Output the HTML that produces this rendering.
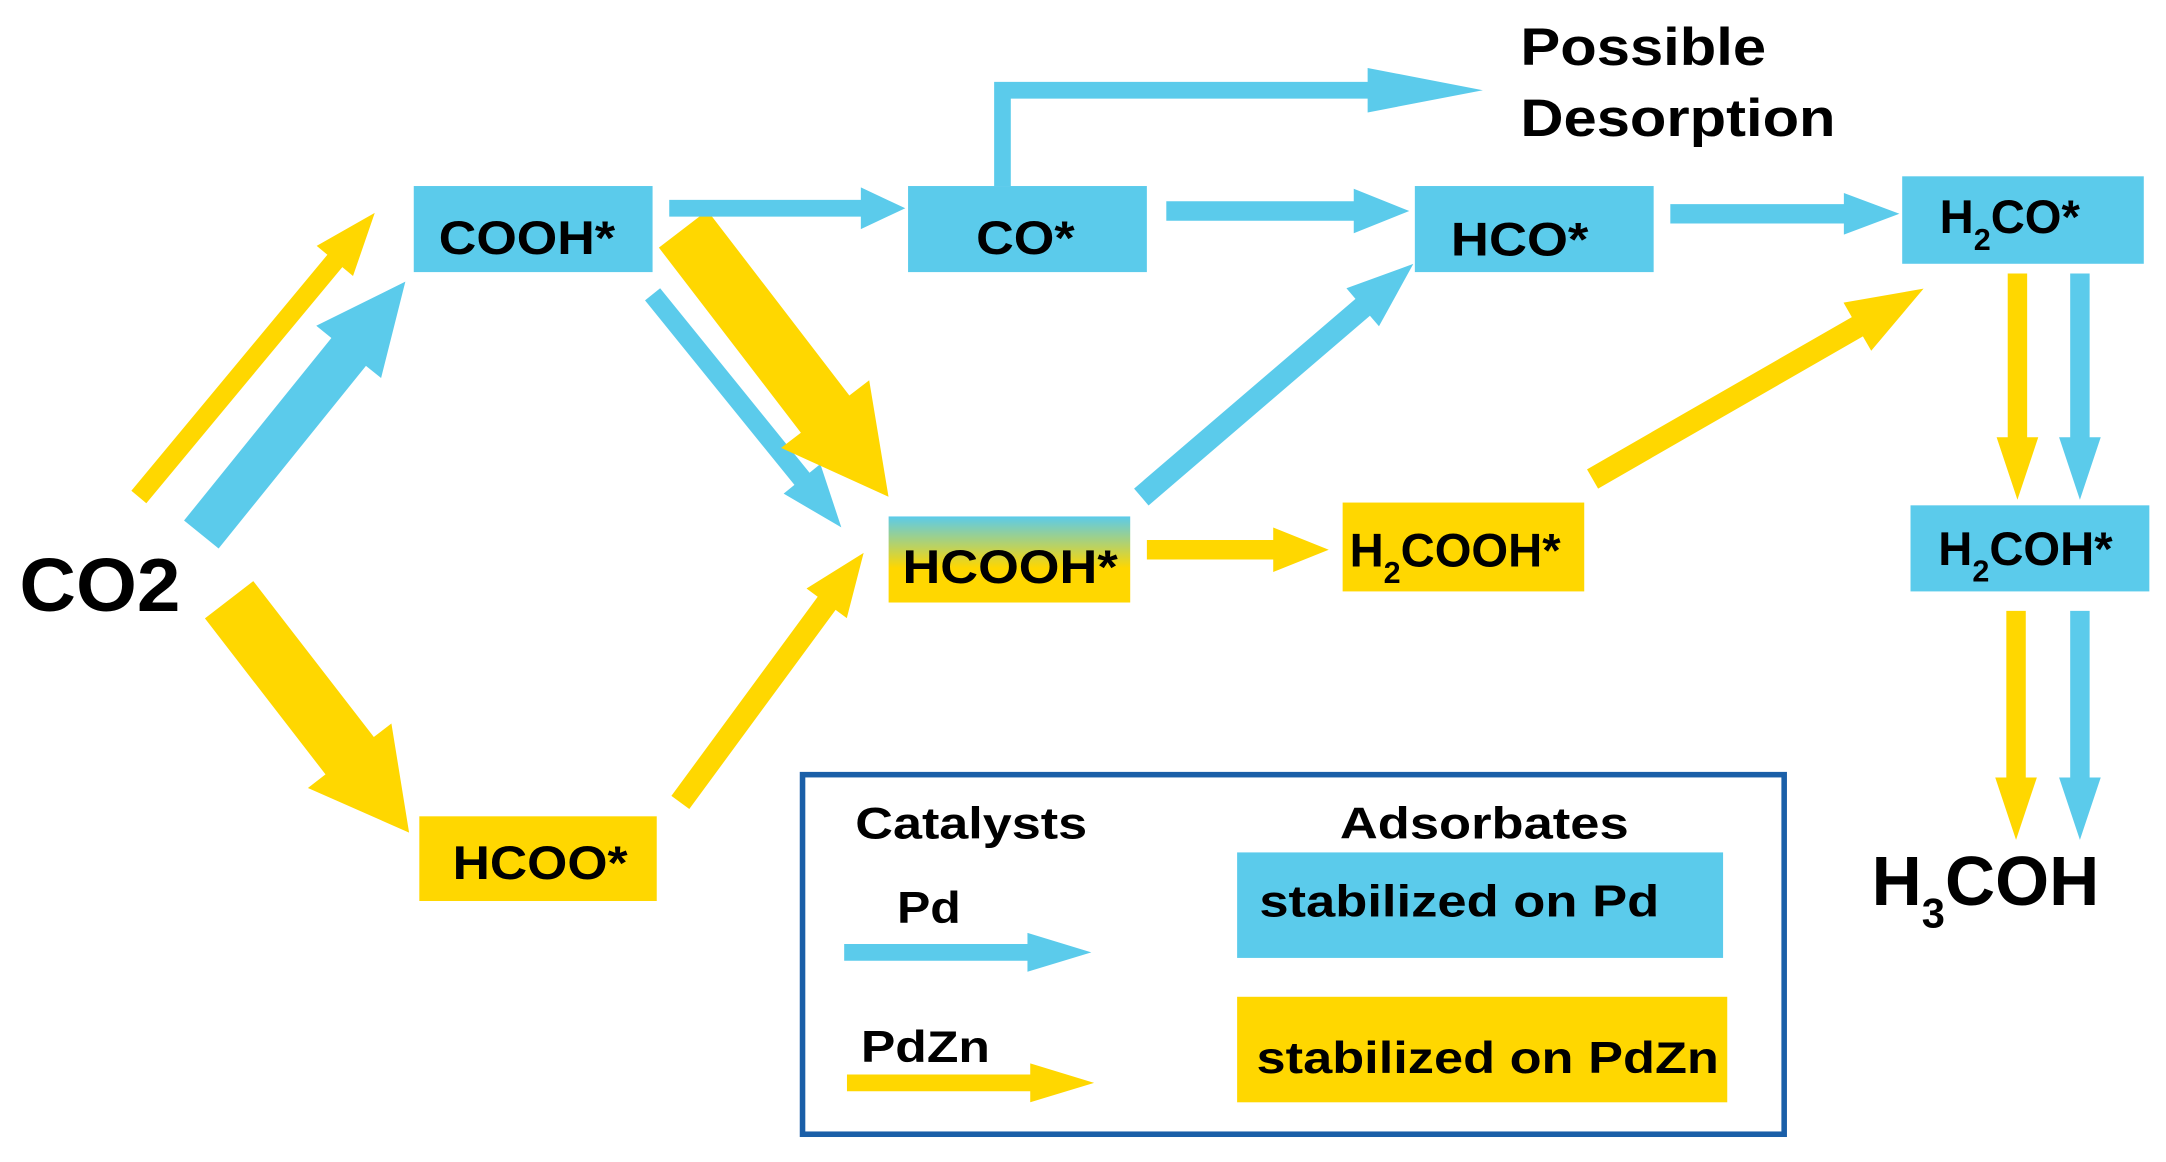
<!DOCTYPE html>
<html><head><meta charset="utf-8"><style>
html,body{margin:0;padding:0;background:#fff;}
svg{display:block;}
text{font-family:"Liberation Sans",Arial,sans-serif;font-weight:bold;fill:#000;}
</style></head><body>
<svg width="2166" height="1162" viewBox="0 0 1560 837" preserveAspectRatio="none" xmlns="http://www.w3.org/2000/svg">
<defs>
<linearGradient id="g" x1="0" y1="0" x2="0" y2="1">
<stop offset="0" stop-color="#5bcbeb"/><stop offset="0.6" stop-color="#ffd700"/><stop offset="1" stop-color="#ffd700"/>
</linearGradient>
</defs>
<!-- boxes -->
<rect x="298" y="134" width="172" height="62" fill="#5bcbeb"/>
<rect x="654" y="134" width="172" height="62" fill="#5bcbeb"/>
<rect x="1019" y="134" width="172" height="62" fill="#5bcbeb"/>
<rect x="1370" y="127" width="174" height="63" fill="#5bcbeb"/>
<rect x="640" y="372" width="174" height="62" fill="url(#g)"/>
<rect x="967" y="362" width="174" height="64" fill="#ffd700"/>
<rect x="1376" y="364" width="172" height="62" fill="#5bcbeb"/>
<rect x="302" y="588" width="171" height="61" fill="#ffd700"/>

<!-- arrows -->
<g fill="#ffd700" transform="translate(100,358) rotate(-50.3)"><polygon points="0,-7 221,-7 221,-17 266,0 221,17 221,7 0,7"/></g>
<g fill="#5bcbeb" transform="translate(145,385) rotate(-51.1)"><polygon points="0,-16 169,-16 169,-30 234,0 169,30 169,16 0,16"/></g>
<g fill="#ffd700" transform="translate(165,432) rotate(52.3)"><polygon points="0,-22 142,-22 142,-38 212,0 142,38 142,22 0,22"/></g>
<g fill="#ffd700" transform="translate(490,578) rotate(-53.7)"><polygon points="0,-8 178,-8 178,-18 223,0 178,18 178,8 0,8"/></g>
<g fill="#5bcbeb" transform="translate(470,212) rotate(51)"><polygon points="0,-7 171,-7 171,-17 216,0 171,17 171,7 0,7"/></g>
<g fill="#ffd700" transform="translate(492,165) rotate(52.5)"><polygon points="0,-22 168,-22 168,-40 243,0 168,40 168,22 0,22"/></g>
<g fill="#5bcbeb" transform="translate(482,150)"><polygon points="0,-6 138,-6 138,-15 170,0 138,15 138,6 0,6"/></g>
<g fill="#5bcbeb" transform="translate(840,152)"><polygon points="0,-7 135,-7 135,-16 175,0 135,16 135,7 0,7"/></g>
<g fill="#5bcbeb" transform="translate(1203,154)"><polygon points="0,-7 125,-7 125,-15 165,0 125,15 125,7 0,7"/></g>
<polygon fill="#5bcbeb" points="716,134 716,59 985,59 985,49 1068,65 985,81 985,71 728,71 728,134"/>
<g fill="#5bcbeb" transform="translate(822,358) rotate(-40.6)"><polygon points="0,-8 210,-8 210,-18 258,0 210,18 210,8 0,8"/></g>
<g fill="#ffd700" transform="translate(826,396)"><polygon points="0,-7 91,-7 91,-16 131,0 91,16 91,7 0,7"/></g>
<g fill="#ffd700" transform="translate(1147,345) rotate(-29.9)"><polygon points="0,-8 220,-8 220,-20 275,0 220,20 220,8 0,8"/></g>
<g fill="#ffd700" transform="translate(1453,197) rotate(90)"><polygon points="0,-7 118,-7 118,-15 163,0 118,15 118,7 0,7"/></g>
<g fill="#5bcbeb" transform="translate(1498,197) rotate(90)"><polygon points="0,-7 118,-7 118,-15 163,0 118,15 118,7 0,7"/></g>
<g fill="#ffd700" transform="translate(1452,440) rotate(90)"><polygon points="0,-7 120,-7 120,-15 165,0 120,15 120,7 0,7"/></g>
<g fill="#5bcbeb" transform="translate(1498,440) rotate(90)"><polygon points="0,-7 120,-7 120,-15 165,0 120,15 120,7 0,7"/></g>

<!-- box labels -->
<text x="316" y="183" font-size="34" textLength="127" lengthAdjust="spacingAndGlyphs">COOH*</text>
<text x="703" y="183" font-size="34" textLength="71" lengthAdjust="spacingAndGlyphs">CO*</text>
<text x="1045" y="184" font-size="34" textLength="99" lengthAdjust="spacingAndGlyphs">HCO*</text>
<text x="1397" y="168" font-size="34">H<tspan dy="12" font-size="22">2</tspan><tspan dy="-12">CO*</tspan></text>
<text x="650" y="420" font-size="34" textLength="155" lengthAdjust="spacingAndGlyphs">HCOOH*</text>
<text x="972" y="408" font-size="34">H<tspan dy="12" font-size="22">2</tspan><tspan dy="-12">COOH*</tspan></text>
<text x="1396" y="407" font-size="34">H<tspan dy="12" font-size="22">2</tspan><tspan dy="-12">COH*</tspan></text>
<text x="326" y="633" font-size="34" textLength="126" lengthAdjust="spacingAndGlyphs">HCOO*</text>
<text x="14" y="440" font-size="54" textLength="116" lengthAdjust="spacingAndGlyphs">CO2</text>
<text x="1348" y="652" font-size="50">H<tspan dy="16" font-size="30">3</tspan><tspan dy="-16">COH</tspan></text>
<text x="1095" y="47" font-size="38" textLength="177" lengthAdjust="spacingAndGlyphs">Possible</text>
<text x="1095" y="98" font-size="38" textLength="227" lengthAdjust="spacingAndGlyphs">Desorption</text>

<!-- legend -->
<rect x="578" y="558" width="707" height="259" fill="none" stroke="#1a5fa8" stroke-width="4"/>
<text x="616" y="604" font-size="32" textLength="167" lengthAdjust="spacingAndGlyphs">Catalysts</text>
<text x="965" y="604" font-size="32" textLength="208" lengthAdjust="spacingAndGlyphs">Adsorbates</text>
<text x="646" y="665" font-size="32" textLength="46" lengthAdjust="spacingAndGlyphs">Pd</text>
<text x="620" y="765" font-size="32" textLength="93" lengthAdjust="spacingAndGlyphs">PdZn</text>
<polygon fill="#5bcbeb" points="608,680 740,680 740,672 786,686 740,700 740,692 608,692"/>
<polygon fill="#ffd700" points="610,774 742,774 742,766 788,780 742,794 742,786 610,786"/>
<rect x="891" y="614" width="350" height="76" fill="#5bcbeb"/>
<rect x="891" y="718" width="353" height="76" fill="#ffd700"/>
<text x="907" y="660" font-size="32" textLength="288" lengthAdjust="spacingAndGlyphs">stabilized on Pd</text>
<text x="905" y="773" font-size="32" textLength="333" lengthAdjust="spacingAndGlyphs">stabilized on PdZn</text>
</svg>
</body></html>
